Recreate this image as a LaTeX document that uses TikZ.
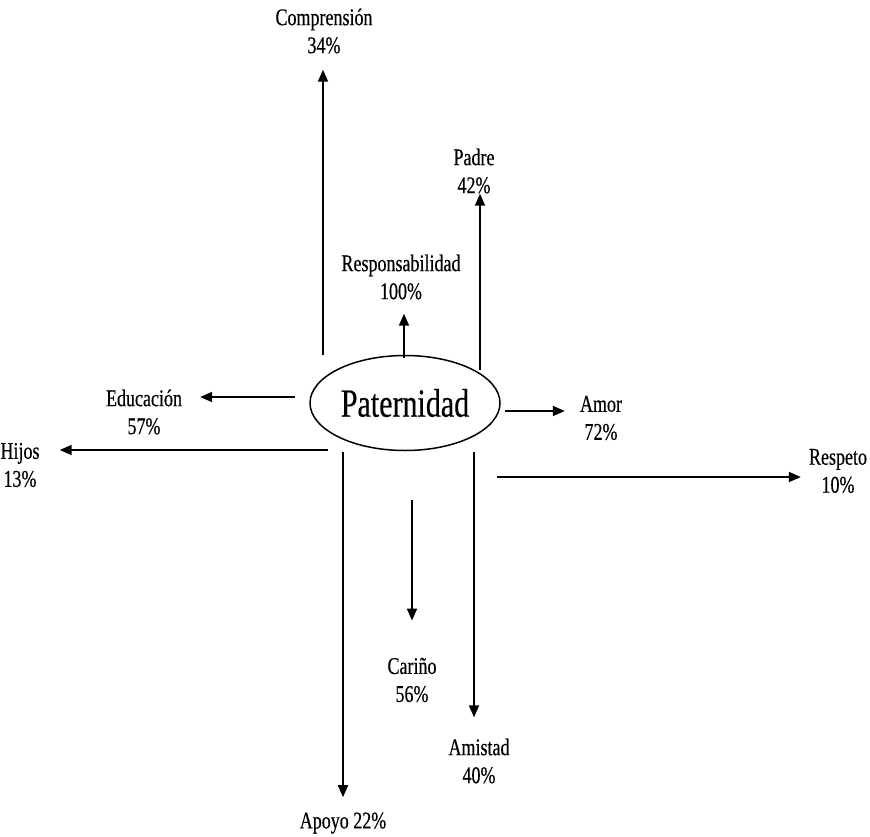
\documentclass[tikz,border=0pt]{standalone}
\usepackage{fontspec}
\setmainfont{Liberation Serif}[FakeStretch=0.75,FakeBold=0.4]
\usepackage{tikz}
\usetikzlibrary{arrows.meta,shapes.geometric,positioning}
\tikzstyle{etiqueta} = [inner sep=0pt, align=center, font=\fontsize{24}{28}\selectfont]
\tikzstyle{flecha} = [line width=1.8pt, -{Triangle[length=12pt,width=10pt]}]

\begin{document}
\begin{tikzpicture}[x=1pt,y=-1pt]
		\useasboundingbox (0,0) rectangle (870,836);
		% nodes
		\node[draw,ellipse,line width=1.5pt,minimum width=190pt,minimum height=95pt,inner sep=0pt,font=\fontsize{40}{40}\selectfont] (pat) at (405,403) {Paternidad};	% Knoten in der Mitte
		\node[etiqueta] (comp) at (324,31) {Comprensión\\34\%};
		\node[etiqueta] (padre) at (474,171) {Padre\\42\%};
		\node[etiqueta] (resp) at (401,277) {Responsabilidad\\100\%};
		\node[etiqueta] (educ) at (144,412) {Educación\\57\%};
		\node[etiqueta] (amor) at (601,418) {Amor\\72\%};
		\node[etiqueta] (hijos) at (20,465) {Hijos\\13\%};
		\node[etiqueta] (respeto) at (838,471) {Respeto\\10\%};
		\node[etiqueta] (carino) at (412,680) {Cariño\\56\%};
		\node[etiqueta] (amistad) at (479,761) {Amistad\\40\%};
		\node[etiqueta] (apoyo) at (343,823) {Apoyo 22\%};
		
		% Anfangspunkte der Pfeile
		\coordinate (t-comp) at (323,355);
		\coordinate (t-padre) at (480,370);
		\coordinate (t-resp) at (404,358);
		\coordinate (t-educ) at (295,397);
		\coordinate (t-amor) at (505,411);
		\coordinate (t-hijos) at (328,450);
		\coordinate (t-respeto) at (497,477);
		\coordinate (t-carino) at (412,500);
		\coordinate (t-amistad) at (474,452);
		\coordinate (t-apoyo) at (343,452);
		
		% arrows
		\draw[flecha, shorten >=16pt] (t-comp) -- (t-comp |- comp.south);
		\draw[flecha] (t-padre) -- (t-padre |- padre.south);
		\draw[flecha, shorten >=14pt] (t-resp) -- (t-resp |- resp.south);
		\draw[flecha, shorten >=18pt] (t-educ) -- (t-educ -| educ.east);
		\draw[flecha, shorten >=15pt] (t-amor) -- (t-amor -| amor.west);
		\draw[flecha, shorten >=20pt] (t-hijos) -- (t-hijos -| hijos.east);
		\draw[flecha, shorten >=8pt] (t-respeto) -- (t-respeto -| respeto.west);
		\draw[flecha, shorten >=37pt] (t-carino) -- (t-carino |- carino.north);
		\draw[flecha, shorten >=21pt] (t-amistad) -- (t-amistad |- amistad.north);
		\draw[flecha, shorten >=15pt] (t-apoyo) -- (t-apoyo |- apoyo.north);
\end{tikzpicture}
\end{document}
